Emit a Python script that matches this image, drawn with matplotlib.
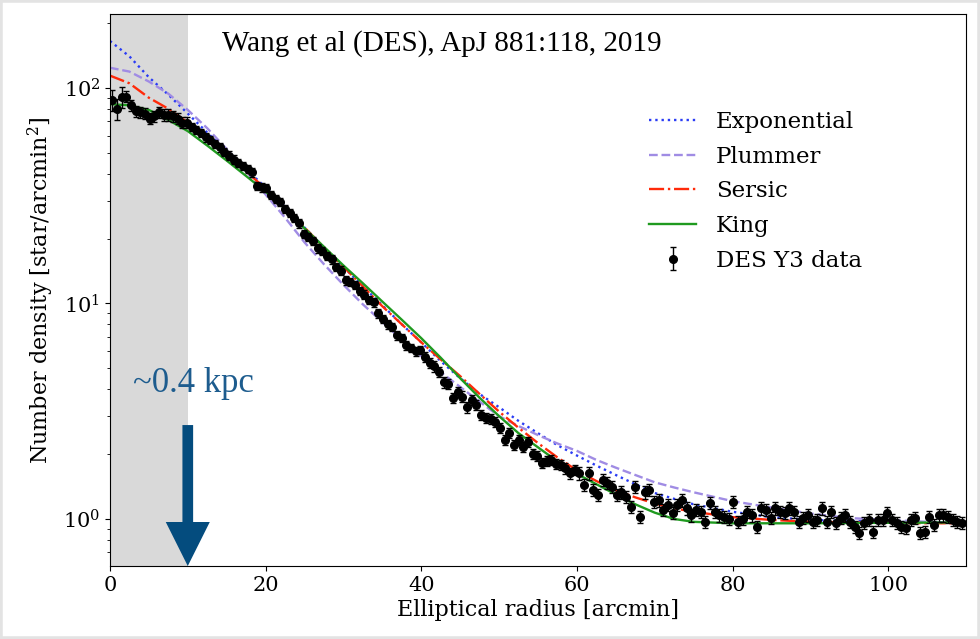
import matplotlib

matplotlib.use("Agg")
import matplotlib.pyplot as plt
import numpy as np
from matplotlib.patches import Rectangle

# measured profile (DES Y3), radius in arcmin, density in star/arcmin^2
radius = [
    0.3, 0.9, 1.5, 2.1, 2.7, 3.3, 3.9, 4.5, 5.1, 5.7,
    6.3, 6.9, 7.5, 8.1, 8.7, 9.3, 9.9, 10.5, 11.1, 11.7,
    12.3, 12.9, 13.5, 14.1, 14.7, 15.3, 15.9, 16.5, 17.1, 17.7,
    18.3, 18.9, 19.5, 20.1, 20.7, 21.3, 21.9, 22.5, 23.1, 23.7,
    24.3, 24.9, 25.5, 26.1, 26.7, 27.3, 27.9, 28.5, 29.1, 29.7,
    30.3, 30.9, 31.5, 32.1, 32.7, 33.3, 33.9, 34.5, 35.1, 35.7,
    36.3, 36.9, 37.5, 38.1, 38.7, 39.3, 39.9, 40.5, 41.1, 41.7,
    42.3, 42.9, 43.5, 44.1, 44.7, 45.3, 45.9, 46.5, 47.1, 47.7,
    48.3, 48.9, 49.5, 50.1, 50.7, 51.3, 51.9, 52.5, 53.1, 53.7,
    54.3, 54.9, 55.5, 56.1, 56.7, 57.3, 57.9, 58.5, 59.1, 59.7,
    60.3, 60.9, 61.5, 62.1, 62.7, 63.3, 63.9, 64.5, 65.1, 65.7,
    66.3, 66.9, 67.5, 68.1, 68.7, 69.3, 69.9, 70.5, 71.1, 71.7,
    72.3, 72.9, 73.5, 74.1, 74.7, 75.3, 75.9, 76.5, 77.1, 77.7,
    78.3, 78.9, 79.5, 80.1, 80.7, 81.3, 81.9, 82.5, 83.1, 83.7,
    84.3, 84.9, 85.5, 86.1, 86.7, 87.3, 87.9, 88.5, 89.1, 89.7,
    90.3, 90.9, 91.5, 92.1, 92.7, 93.3, 93.9, 94.5, 95.1, 95.7,
    96.3, 96.9, 97.5, 98.1, 98.7, 99.3, 99.9, 100.5, 101.1, 101.7,
    102.3, 102.9, 103.5, 104.1, 104.7, 105.3, 105.9, 106.5, 107.1, 107.7,
    108.3, 108.9, 109.5,
]
density = [
    88, 80, 91, 91, 83, 78, 77, 76, 72, 74,
    77, 75, 75, 74, 72, 69, 69, 66, 64, 62,
    59, 57.5, 55, 53, 50.5, 48.5, 46.5, 45, 43.5, 42,
    40.5, 35, 34.5, 34.3, 31.8, 30.5, 29.5, 27.5, 26.3, 25,
    23.5, 21, 20.3, 19.5, 18, 17.5, 16.6, 16, 14.8, 14.2,
    12.8, 12.6, 12.2, 11.4, 11, 10.4, 10.1, 9.0, 8.5, 8.0,
    7.8, 7.1, 6.9, 6.4, 6.2, 6.0, 6.1, 5.65, 5.3, 5.1,
    4.8, 4.3, 4.25, 3.65, 3.9, 3.7, 3.3, 3.57, 3.38, 3.05,
    2.94, 2.91, 2.82, 2.64, 2.33, 2.5, 2.2, 2.33, 2.16, 2.28,
    2.0, 1.96, 1.82, 1.86, 1.88, 1.8, 1.78, 1.72, 1.63, 1.69,
    1.63, 1.44, 1.63, 1.36, 1.29, 1.52, 1.47, 1.41, 1.29, 1.33,
    1.27, 1.14, 1.41, 1.02, 1.33, 1.36, 1.2, 1.22, 1.1, 1.16,
    1.07, 1.16, 1.22, 1.12, 1.04, 1.1, 1.08, 0.97, 1.19, 1.08,
    1.04, 1.02, 1.0, 1.2, 0.97, 1.0, 1.08, 1.04, 0.92, 1.12,
    1.1, 1.01, 1.12, 1.08, 1.07, 1.12, 1.08, 0.97, 1.01, 1.04,
    0.97, 0.99, 1.12, 0.97, 1.08, 0.96, 1.01, 1.04, 0.97, 0.92,
    0.86, 0.96, 0.99, 0.87, 0.99, 0.99, 1.07, 0.99, 0.96, 0.92,
    0.91, 0.99, 1.01, 0.86, 0.87, 1.02, 0.94, 1.04, 1.04, 1.02,
    0.99, 0.97, 0.96,
]
# relative error bar size per radial zone
err_zone_edges = [2, 10, 40, 60]
err_zone_frac = [0.11, 0.06, 0.045, 0.055, 0.065]

# fitted model curves
model_r = [0, 2.5, 5, 7.5, 10, 12.5, 15, 17.5, 20, 22.5, 25, 27.5, 30, 32.5, 35,
           37.5, 40, 42.5, 45, 47.5, 50, 52.5, 55, 57.5, 60, 62.5, 65, 67.5, 70,
           72.5, 75, 80, 85, 90, 95, 100, 105, 110]
exponential = [165, 140, 112, 93, 76, 62, 51, 42, 34.5, 28, 22.5, 18.2, 14.8, 12.0, 9.8,
               8.0, 6.6, 5.4, 4.5, 3.8, 3.3, 2.85, 2.5, 2.2, 1.97, 1.77, 1.6, 1.45, 1.32,
               1.24, 1.17, 1.08, 1.02, 0.99, 0.98, 0.97, 0.965, 0.96]
plummer = [124, 119, 107, 94, 79, 65, 52, 41, 32, 25, 19.2, 15.2, 12.2, 9.9, 8.2,
           6.8, 5.7, 4.8, 4.1, 3.5, 3.0, 2.7, 2.45, 2.24, 2.07, 1.88, 1.73, 1.6, 1.48,
           1.4, 1.33, 1.21, 1.13, 1.06, 1.01, 0.99, 0.97, 0.96]
sersic = [114, 105, 90, 80, 69, 59, 49, 41, 34, 28, 22.5, 18.2, 14.8, 12.0, 9.7,
          8.0, 6.6, 5.5, 4.6, 3.8, 3.15, 2.65, 2.25, 1.93, 1.68, 1.5, 1.36, 1.26, 1.18,
          1.12, 1.08, 1.02, 0.99, 0.97, 0.965, 0.96, 0.955, 0.955]
king = [84, 83, 79, 71, 63, 54, 46, 39, 33, 27.5, 22.3, 18.3, 15.0, 12.4, 10.2,
        8.4, 6.9, 5.6, 4.5, 3.65, 3.0, 2.5, 2.15, 1.85, 1.62, 1.45, 1.3, 1.17, 1.07,
        1.0, 0.97, 0.955, 0.955, 0.955, 0.958, 0.96, 0.962, 0.965]

plt.rcParams["font.family"] = "DejaVu Serif"
plt.rcParams["mathtext.fontset"] = "dejavuserif"

r = np.array(radius)
n = np.array(density)
frac = np.array(err_zone_frac)[np.searchsorted(err_zone_edges, r)]
n_err = n * frac

fig = plt.figure(figsize=(9.8, 6.39), dpi=100)
ax = fig.add_axes([0.1122, 0.1142, 0.8735, 0.8638])

ax.axvspan(0, 10, color="#d9d9d9", lw=0, zorder=0)

ax.plot(model_r, exponential, ":", color="#2a3cf5", lw=1.7, label="Exponential", zorder=2)
ax.plot(model_r, plummer, "--", color="#a08ce4", lw=1.7, label="Plummer", zorder=2)
ax.plot(model_r, sersic, "-.", color="#ff2a0a", lw=1.7, label="Sersic", zorder=2)
ax.plot(model_r, king, "-", color="#1f9a1f", lw=1.7, label="King", zorder=2)
ax.errorbar(r, n, yerr=n_err, fmt="o", color="black", ms=5.5, elinewidth=1,
            capsize=2.5, capthick=1, label="DES Y3 data", zorder=3)

ax.set_yscale("log")
ax.set_xlim(0, 110)
ax.set_ylim(0.605, 220)
ax.tick_params(labelsize=15)
ax.set_xlabel("Elliptical radius [arcmin]", fontsize=16, labelpad=3)
ax.set_ylabel("Number density [star/arcmin$^2$]", fontsize=16, labelpad=5)

ax.legend(loc="upper left", bbox_to_anchor=(0.630, 0.824), frameon=False, fontsize=16.5,
          borderpad=0, borderaxespad=0, handlelength=2.05, handletextpad=0.87,
          labelspacing=0.55)

ax.text(0.131, 0.946, "Wang et al (DES), ApJ 881:118, 2019", transform=ax.transAxes,
        fontsize=21, family="Liberation Serif", va="center", ha="left")
ax.text(0.027, 0.3315, "~0.4 kpc", transform=ax.transAxes, fontsize=25,
        family="Liberation Serif", color="#1d5c8e", va="center", ha="left")

ax.annotate("", xy=(10, 0.0), xycoords=("data", "axes fraction"),
            xytext=(10, 0.2554), textcoords=("data", "axes fraction"),
            arrowprops=dict(arrowstyle="simple,head_length=3.17,head_width=3.17,tail_width=0.77",
                            mutation_scale=10, color="#044c7e", lw=0,
                            shrinkA=0, shrinkB=0), zorder=4)

fig.patches.append(Rectangle((0, 0), 1, 1, transform=fig.transFigure, fill=False,
                             edgecolor="#e3e3e3", lw=4, zorder=10))

fig.savefig("out.png", dpi=100)
